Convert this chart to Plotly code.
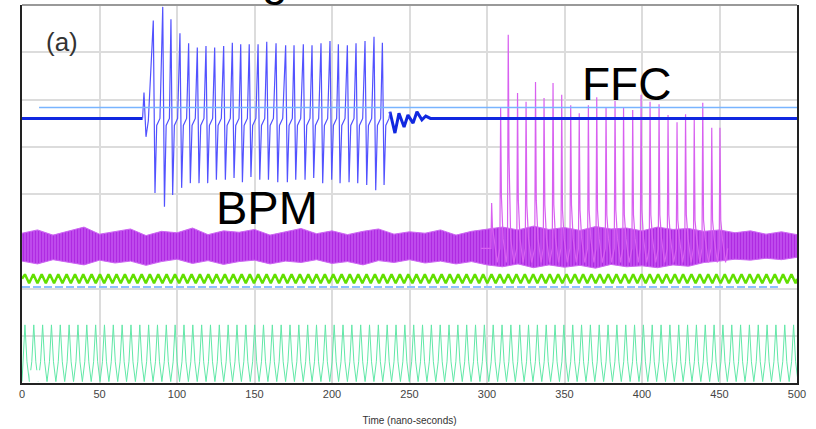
import plotly.graph_objects as go

# ------------- values -------------
# x: time in ns, y: screen divisions (0 = bottom of screen, 8 = top)

# BPM (blue): flat baseline, a small pre-kick, 27 oscillation cycles, then ringing
BPM_BASE = 5.60
BPM_MID = 5.45
bpm_pre_t = [0, 77.8, 78.7, 80.0, 81.5]
bpm_pre_v = [5.60, 5.60, 6.15, 5.21, 5.55]
bpm_top_t = [84.7, 90.8, 96.1, 101.9, 107.5, 113.1, 118.7, 124.3, 130.1, 135.7,
             141.1, 146.6, 152.3, 157.9, 163.9, 170.1, 175.5, 181.5, 187.1, 192.9,
             198.7, 204.1, 209.9, 215.5, 221.3, 227.1, 232.5]
bpm_top_v = [7.67, 7.96, 7.70, 7.40, 7.19, 7.10, 7.13, 7.10, 7.13, 7.20,
             7.17, 7.17, 7.17, 7.22, 7.19, 7.15, 7.15, 7.17, 7.15, 7.19,
             7.24, 7.17, 7.15, 7.19, 7.24, 7.33, 7.20]
bpm_bot_v = [4.02, 3.73, 3.98, 4.13, 4.23, 4.23, 4.23, 4.30, 4.30, 4.34,
             4.25, 4.36, 4.30, 4.30, 4.25, 4.25, 4.30, 4.30, 4.34, 4.23,
             4.30, 4.23, 4.25, 4.23, 4.19, 4.08, 4.19]
bpm_ring_t = [237.4, 240.6, 243.2, 246.5, 249.0, 252.3, 254.8, 258.0, 260.5, 263.5, 500]
bpm_ring_v = [5.74, 5.29, 5.71, 5.42, 5.67, 5.50, 5.74, 5.57, 5.65, 5.60, 5.60]

# light blue reference line
ref_t = [11, 500]
ref_v = [5.83, 5.83]

# FFC (magenta): noise band envelope + pulse spikes
mag_env_t = [0, 10, 20, 30, 40, 50, 60, 70, 80, 90, 100, 110, 120, 130, 140, 150, 160,
             170, 180, 190, 200, 210, 220, 230, 240, 250, 260, 270, 280, 290, 300, 310,
             320, 330, 340, 350, 360, 370, 380, 390, 400, 410, 420, 430, 440, 450, 460,
             470, 480, 490, 500]
mag_up_v = [3.17, 3.24, 3.13, 3.22, 3.30, 3.15, 3.20, 3.26, 3.12, 3.21,
            3.18, 3.28, 3.14, 3.22, 3.19, 3.25, 3.13, 3.20, 3.27, 3.16,
            3.22, 3.14, 3.21, 3.26, 3.15, 3.20, 3.17, 3.24, 3.13, 3.21,
            3.26, 3.30, 3.24, 3.32, 3.25, 3.29, 3.23, 3.31, 3.26, 3.28,
            3.22, 3.30, 3.25, 3.27, 3.21, 3.24, 3.18, 3.22, 3.15, 3.20, 3.14]
mag_lo_v = [2.58, 2.52, 2.61, 2.55, 2.50, 2.60, 2.54, 2.58, 2.49, 2.57,
            2.62, 2.53, 2.59, 2.51, 2.57, 2.60, 2.52, 2.58, 2.55, 2.61,
            2.53, 2.57, 2.50, 2.59, 2.55, 2.61, 2.54, 2.58, 2.52, 2.57,
            2.50, 2.46, 2.52, 2.44, 2.50, 2.45, 2.49, 2.43, 2.51, 2.46,
            2.48, 2.44, 2.50, 2.47, 2.55, 2.58, 2.62, 2.60, 2.64, 2.61, 2.66]
FFC_BASE = 2.85
FFC_MID = 3.05
FFC_LOW = 2.55
ffc_t = [303.0, 308.8, 313.7, 319.7, 325.2, 331.3, 336.8, 342.6, 348.2, 354.0,
         359.5, 365.4, 370.8, 376.8, 382.6, 388.1, 394.0, 399.4, 405.2, 411.0,
         416.8, 422.6, 428.1, 433.7, 439.2, 445.0, 450.3]
ffc_top = [3.81, 5.82, 7.37, 6.14, 5.95, 6.37, 6.03, 6.35, 6.10, 5.88,
           5.71, 5.88, 6.05, 5.84, 5.97, 5.82, 5.78, 6.10, 5.95, 5.90,
           5.67, 5.52, 5.69, 5.57, 5.93, 5.40, 5.40]
ffc_tail = [3.30, 3.94, 4.76, 3.87, 3.77, 3.87, 3.77, 3.77, 3.66, 3.77,
            3.66, 3.66, 3.66, 3.56, 3.66, 3.56, 3.56, 3.66, 3.56, 3.56,
            3.56, 3.45, 3.56, 3.45, 3.45, 3.45, 3.45]

# green clock ripple
GREEN_HI = 2.30
GREEN_LO = 2.11
green_top_t = [1.9, 7.3, 12.7, 18.0, 23.4, 28.8, 34.2, 39.5,
               44.9, 50.3, 55.7, 61.0, 66.4, 71.8, 77.2, 82.5,
               87.9, 93.3, 98.7, 104.0, 109.4, 114.8, 120.2, 125.5,
               130.9, 136.3, 141.7, 147.0, 152.4, 157.8, 163.2, 168.5,
               173.9, 179.3, 184.7, 190.0, 195.4, 200.8, 206.2, 211.5,
               216.9, 222.3, 227.7, 233.0, 238.4, 243.8, 249.2, 254.5,
               259.9, 265.3, 270.7, 276.0, 281.4, 286.8, 292.2, 297.5,
               302.9, 308.3, 313.7, 319.0, 324.4, 329.8, 335.2, 340.5,
               345.9, 351.3, 356.7, 362.0, 367.4, 372.8, 378.2, 383.5,
               388.9, 394.3, 399.7, 405.0, 410.4, 415.8, 421.2, 426.5,
               431.9, 437.3, 442.7, 448.0, 453.4, 458.8, 464.2, 469.5,
               474.9, 480.3, 485.7, 491.0, 496.4]

# dashed light blue marker line
dash_t = [0, 487.7]
dash_v = [2.03, 2.03]

# teal bunch-clock pulses
TEAL_HI = 1.23
TEAL_KNEE = 0.45
TEAL_LO = 0.03
teal_top_t = [1.9, 7.6, 13.3, 19.0, 24.7, 30.4, 36.1, 41.8, 47.5, 53.2,
              58.9, 64.6, 70.3, 76.0, 81.7, 87.4, 93.1, 98.8, 104.5, 110.2,
              115.9, 121.6, 127.3, 133.0, 138.7, 144.4, 150.1, 155.8, 161.5, 167.2,
              172.9, 178.6, 184.3, 190.0, 195.7, 201.4, 207.1, 212.8, 218.5, 224.2,
              229.9, 235.6, 241.3, 247.0, 252.7, 258.4, 264.1, 269.8, 275.5, 281.2,
              286.9, 292.6, 298.3, 304.0, 309.7, 315.4, 321.1, 326.8, 332.5, 338.2,
              343.9, 349.6, 355.3, 361.0, 366.7, 372.4, 378.1, 383.8, 389.5, 395.2,
              400.9, 406.6, 412.3, 418.0, 423.7, 429.4, 435.1, 440.8, 446.5, 452.2,
              457.9, 463.6, 469.3, 475.0, 480.7, 486.4, 492.1, 497.8]

x_ticks = [0, 50, 100, 150, 200, 250, 300, 350, 400, 450, 500]

FONT = "Liberation Sans, Arial, sans-serif"


# ------------- build the traces -------------

def bpm_oscillation():
    xs, ys = [bpm_pre_t[-1]], [bpm_pre_v[-1]]
    for t, hi, lo in zip(bpm_top_t, bpm_top_v, bpm_bot_v):
        xs += [t, t + 1.1, t + 2.2, t + 4.3]
        ys += [hi, lo, BPM_MID, BPM_BASE]
    xs.append(bpm_ring_t[0])
    ys.append(bpm_ring_v[0])
    return xs, ys


def ffc_pulses():
    xs, ys = [296.0], [FFC_BASE]
    for t, hi, tail in zip(ffc_t, ffc_top, ffc_tail):
        xs += [t - 0.5, t, t + 0.5, t + 1.6, t + 3.6]
        ys += [FFC_BASE, hi, tail, FFC_MID, FFC_LOW]
    xs.append(ffc_t[-1] + 5.0)
    ys.append(FFC_BASE)
    return xs, ys


def zigzag(tops, hi, lo, half):
    xs, ys = [0], [(hi + lo) / 2]
    for t in tops:
        xs += [t, t + half]
        ys += [hi, lo]
    xs.append(500)
    ys.append((hi + lo) / 2)
    return xs, ys


def teal_wave():
    xs, ys = [0], [TEAL_LO]
    for t in teal_top_t:
        xs += [t - 1.3, t, t + 1.3, t + 2.85]
        ys += [TEAL_KNEE, TEAL_HI, TEAL_KNEE, TEAL_LO]
    return xs, ys


fig = go.Figure()

# teal pulses
tx, ty = teal_wave()
fig.add_trace(go.Scatter(x=tx, y=ty, mode="lines",
                         line=dict(color="#62e8a8", width=1)))

# dashed marker
fig.add_trace(go.Scatter(x=dash_t, y=dash_v, mode="lines",
                         line=dict(color="#8cc0ff", width=2, dash="8px,3px")))

# green ripple
gx, gy = zigzag(green_top_t, GREEN_HI, GREEN_LO, 2.69)
fig.add_trace(go.Scatter(x=gx, y=gy, mode="lines",
                         line=dict(color="#62e000", width=2.5)))

# magenta noise band
fig.add_trace(go.Scatter(x=mag_env_t, y=mag_lo_v, mode="lines",
                         line=dict(color="#cc66f2", width=1)))
fig.add_trace(go.Scatter(x=mag_env_t, y=mag_up_v, mode="lines", fill="tonexty",
                         line=dict(color="#cc66f2", width=1),
                         fillcolor="#b420e8",
                         fillpattern=dict(shape="|", fgcolor="#9a00d6",
                                          bgcolor="#c455ef", size=3, solidity=0.5)))

# FFC spikes
fx, fy = ffc_pulses()
fig.add_trace(go.Scatter(x=fx, y=fy, mode="lines",
                         line=dict(color="#d860f0", width=1.2)))

# BPM thick baseline + ringing
fig.add_trace(go.Scatter(x=bpm_pre_t[:2] + [None] + bpm_ring_t,
                         y=bpm_pre_v[:2] + [None] + bpm_ring_v, mode="lines",
                         line=dict(color="#1028e0", width=3)))
# BPM oscillation (incl. the pre-kick)
ox, oy = bpm_oscillation()
fig.add_trace(go.Scatter(x=bpm_pre_t[1:] + ox[1:], y=bpm_pre_v[1:] + oy[1:], mode="lines",
                         line=dict(color="#5252ff", width=1.2)))

# light blue reference line
fig.add_trace(go.Scatter(x=ref_t, y=ref_v, mode="lines",
                         line=dict(color="#78b4ff", width=1.5)))

fig.add_annotation(x=0.0516, y=0.902, xref="paper", yref="paper", text="(a)",
                   showarrow=False, xanchor="center", yanchor="middle",
                   font=dict(family=FONT, size=26, color="#333333"))
fig.add_annotation(x=158, y=3.72, text="BPM", showarrow=False,
                   font=dict(family=FONT, size=47, color="#000000"))
fig.add_annotation(x=390, y=6.32, text="FFC", showarrow=False,
                   font=dict(family=FONT, size=46, color="#000000"))
# descender of a cropped title above the screen
fig.add_annotation(x=0.326, y=0.995, xref="paper", yref="paper", text="g",
                   showarrow=False, xanchor="center", yanchor="bottom",
                   font=dict(family=FONT, size=46, color="#000000"))

# scope marker box, bottom left
fig.add_shape(type="rect", x0=5, x1=11.6, y0=0.03, y1=0.27,
              fillcolor="white", line=dict(width=0), layer="above")
# top edge of the screen (lighter than the others)
fig.add_shape(type="line", xref="paper", yref="paper", x0=0, x1=1, y0=1, y1=1,
              line=dict(color="#999999", width=2))

fig.update_layout(
    width=816, height=429,
    margin=dict(l=22, r=19, t=5, b=46),
    paper_bgcolor="white", plot_bgcolor="white",
    showlegend=False,
    font=dict(family=FONT),
)
fig.update_xaxes(
    range=[0, 500], tickvals=x_ticks, ticks="",
    tickfont=dict(size=11, color="#444444"),
    showgrid=True, gridcolor="#dcdcdc", gridwidth=1.5,
    showline=True, linecolor="#222222", linewidth=2,
    zeroline=False,
    title=dict(text="Time (nano-seconds)", font=dict(size=10, color="#333333"), standoff=18),
)
fig.update_yaxes(
    range=[0, 8], dtick=1, showticklabels=False, ticks="",
    showgrid=True, gridcolor="#dcdcdc", gridwidth=1.5,
    showline=True, linecolor="#222222", linewidth=2, mirror=True,
    zeroline=False,
)

# page body has a default 8px margin; drop it so the figure sits at the window corner
fig.write_html("out.html", config={"displayModeBar": False},
               post_script="document.body.style.margin='0px';")
